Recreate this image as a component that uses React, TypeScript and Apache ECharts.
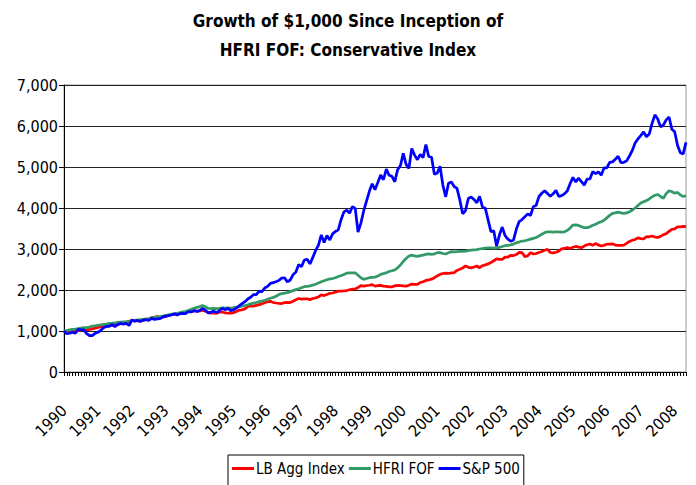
import React, { useEffect, useRef } from "react";
import * as echarts from "echarts";

const titleText = "Growth of $1,000 Since Inception of\nHFRI FOF: Conservative Index";
const yearLabels = ["1990","1991","1992","1993","1994","1995","1996","1997","1998","1999","2000","2001","2002","2003","2004","2005","2006","2007","2008"];
const seriesNames = ["LB Agg Index", "HFRI FOF", "S&P 500"];
const seriesColors = ["#FF0000", "#339966", "#0000FF"];
const yTicks = [0, 1000, 2000, 3000, 4000, 5000, 6000, 7000];

const lbAgg = [
  1000,
  988, 991, 993, 984, 1008, 1025, 1040, 1028, 1037, 1052, 1071, 1090,
  1101, 1111, 1119, 1131, 1137, 1138, 1154, 1178, 1202, 1215, 1228, 1264,
  1246, 1254, 1247, 1256, 1280, 1297, 1324, 1337, 1353, 1336, 1336, 1357,
  1383, 1408, 1414, 1424, 1426, 1452, 1460, 1486, 1490, 1496, 1484, 1490,
  1510, 1484, 1448, 1436, 1435, 1432, 1460, 1462, 1440, 1439, 1436, 1446,
  1474, 1509, 1518, 1539, 1599, 1611, 1607, 1626, 1642, 1663, 1688, 1713,
  1725, 1695, 1683, 1673, 1670, 1693, 1697, 1694, 1724, 1762, 1792, 1776,
  1781, 1786, 1766, 1792, 1809, 1830, 1880, 1864, 1891, 1919, 1927, 1947,
  1972, 1970, 1977, 1987, 2006, 2023, 2027, 2060, 2108, 2097, 2109, 2116,
  2131, 2094, 2105, 2112, 2094, 2087, 2078, 2077, 2102, 2110, 2109, 2099,
  2092, 2117, 2145, 2139, 2138, 2182, 2202, 2234, 2248, 2263, 2300, 2343,
  2381, 2402, 2414, 2403, 2417, 2423, 2478, 2506, 2535, 2588, 2553, 2541,
  2561, 2586, 2543, 2592, 2614, 2637, 2669, 2714, 2758, 2745, 2745, 2801,
  2804, 2843, 2841, 2865, 2918, 2912, 2814, 2833, 2908, 2881, 2888, 2916,
  2940, 2971, 2993, 2915, 2904, 2920, 2948, 3005, 3013, 3038, 3014, 3043,
  3062, 3046, 3030, 3071, 3104, 3121, 3092, 3132, 3100, 3075, 3089, 3117,
  3117, 3127, 3096, 3091, 3088, 3094, 3136, 3184, 3212, 3233, 3271, 3252,
  3249, 3299, 3298, 3316, 3291, 3281, 3308, 3349, 3375, 3430, 3480, 3490,
  3537, 3542, 3553, 3545,
];

const hfriFof = [
  1000,
  1012, 1025, 1038, 1045, 1058, 1070, 1082, 1085, 1098, 1120, 1128, 1140,
  1150, 1162, 1170, 1185, 1192, 1200, 1210, 1218, 1225, 1230, 1238, 1250,
  1262, 1270, 1280, 1285, 1295, 1305, 1318, 1330, 1345, 1350, 1365, 1380,
  1395, 1410, 1420, 1432, 1450, 1465, 1480, 1500, 1530, 1555, 1575, 1595,
  1620, 1590, 1550, 1545, 1552, 1548, 1555, 1565, 1560, 1565, 1560, 1570,
  1585, 1595, 1608, 1622, 1640, 1660, 1680, 1695, 1715, 1730, 1750, 1775,
  1800, 1820, 1845, 1890, 1910, 1925, 1935, 1960, 1985, 2010, 2030, 2055,
  2080, 2090, 2100, 2120, 2140, 2170, 2200, 2225, 2250, 2270, 2280, 2300,
  2330, 2350, 2380, 2410, 2420, 2415, 2420, 2360, 2300, 2260, 2280, 2300,
  2310, 2315, 2340, 2380, 2400, 2420, 2450, 2470, 2490, 2540, 2610, 2700,
  2770, 2830, 2850, 2830, 2820, 2840, 2850, 2870, 2880, 2870, 2880, 2910,
  2910, 2890, 2880, 2910, 2935, 2930, 2935, 2940, 2945, 2950, 2960, 2970,
  2980, 2985, 3000, 3010, 3020, 3030, 3030, 3020, 3030, 3040, 3060, 3080,
  3090, 3100, 3120, 3150, 3170, 3195, 3200, 3220, 3240, 3260, 3280, 3320,
  3360, 3400, 3420, 3420, 3410, 3420, 3415, 3410, 3420, 3450, 3510, 3585,
  3590, 3575, 3545, 3520, 3520, 3540, 3580, 3600, 3640, 3665, 3700, 3760,
  3820, 3870, 3880, 3900, 3880, 3870, 3880, 3910, 3950, 4000, 4060, 4120,
  4150, 4180, 4220, 4270, 4310, 4330, 4280, 4235, 4350, 4420, 4400, 4360,
  4380, 4320, 4280, 4300,
];

const sp500 = [
  1000,
  934, 945, 971, 948, 1038, 1032, 1030, 936, 890, 887, 943, 969,
  1012, 1083, 1110, 1113, 1160, 1107, 1160, 1186, 1167, 1184, 1134, 1264,
  1242, 1257, 1233, 1270, 1275, 1256, 1309, 1280, 1295, 1301, 1344, 1361,
  1374, 1391, 1421, 1388, 1422, 1427, 1422, 1475, 1463, 1495, 1480, 1498,
  1550, 1507, 1442, 1462, 1484, 1447, 1496, 1556, 1518, 1553, 1496, 1518,
  1558, 1617, 1665, 1715, 1781, 1823, 1885, 1889, 1969, 1963, 2048, 2088,
  2160, 2179, 2201, 2235, 2290, 2299, 2198, 2244, 2370, 2436, 2620, 2568,
  2730, 2750, 2637, 2795, 2964, 3097, 3344, 3157, 3330, 3219, 3368, 3426,
  3466, 3714, 3905, 3945, 3876, 4034, 3992, 3414, 3632, 3928, 4166, 4406,
  4591, 4448, 4625, 4806, 4690, 4951, 4797, 4772, 4640, 4935, 5035, 5331,
  5065, 4967, 5453, 5290, 5179, 5309, 5227, 5549, 5258, 5237, 4823, 4846,
  5019, 4561, 4273, 4606, 4635, 4524, 4480, 4197, 3858, 3932, 4233, 4269,
  4209, 4127, 4284, 4027, 3996, 3711, 3423, 3444, 3070, 3340, 3535, 3326,
  3240, 3190, 3221, 3487, 3670, 3718, 3784, 3857, 3817, 4032, 4067, 4280,
  4360, 4420, 4354, 4287, 4346, 4430, 4284, 4300, 4347, 4414, 4591, 4747,
  4634, 4729, 4646, 4559, 4703, 4709, 4886, 4838, 4879, 4800, 4977, 4979,
  5114, 5125, 5190, 5261, 5107, 5115, 5149, 5267, 5405, 5584, 5685, 5766,
  5856, 5737, 5804, 6065, 6272, 6170, 5982, 6020, 6150, 6220, 5920, 5860,
  5530, 5350, 5320, 5600,
];

const FONT = "'DejaVu Sans Condensed', 'Liberation Sans', sans-serif";

export default function App() {
  const ref = useRef<HTMLDivElement>(null);
  useEffect(() => {
    document.body.style.margin = "0";
    if (!ref.current) return;
    const chart = echarts.init(ref.current, undefined, { renderer: "svg" });
    const categories: string[] = [];
    yearLabels.forEach((y) => {
      for (let m = 1; m <= 12; m++) categories.push(y + "-" + m);
    });
    const cats = categories.slice(0, sp500.length);
    const allData = [lbAgg, hfriFof, sp500];
    chart.setOption({
      animation: false,
      backgroundColor: "#fff",
      textStyle: { fontFamily: FONT },
      title: {
        text: titleText,
        left: "center",
        top: 1,
        textStyle: { fontFamily: FONT, fontSize: 17, fontWeight: "bold", color: "#000", lineHeight: 29 },
      },
      legend: {
        data: seriesNames,
        left: 228,
        top: 455,
        icon: "rect",
        itemWidth: 22,
        itemHeight: 3,
        itemGap: 4,
        padding: [6, 4, 10, 4],
        borderColor: "#000",
        borderWidth: 1,
        textStyle: { fontFamily: FONT, fontSize: 15, color: "#000", padding: [0, 0, 0, -3] },
      },
      grid: {
        left: 64,
        right: 10,
        top: 85,
        bottom: 113,
        show: true,
        borderColor: "#999",
        borderWidth: 1,
      },
      xAxis: {
        type: "category",
        data: cats,
        boundaryGap: false,
        axisLine: { lineStyle: { color: "#000", width: 1 } },
        axisTick: { show: true, interval: 0, length: 4, lineStyle: { color: "#000" } },
        axisLabel: {
          interval: 11,
          rotate: 45,
          margin: 36,
          fontFamily: FONT,
          fontSize: 16,
          color: "#000",
          formatter: (v: string) => v.slice(0, 4),
        },
        splitLine: { show: false },
      },
      yAxis: {
        type: "value",
        min: yTicks[0],
        max: yTicks[yTicks.length - 1],
        interval: 1000,
        axisLine: { show: true, lineStyle: { color: "#000", width: 1 } },
        axisTick: { show: true, length: 5, lineStyle: { color: "#000" } },
        axisLabel: {
          fontFamily: FONT,
          fontSize: 16,
          color: "#000",
          margin: 6,
          formatter: (v: number) => v.toLocaleString("en-US"),
        },
        splitLine: { show: true, lineStyle: { color: "#222", width: 1 } },
      },
      series: seriesNames.map((name, k) => ({
        name,
        type: "line",
        data: allData[k],
        color: seriesColors[k],
        symbol: "none",
        lineStyle: { color: seriesColors[k], width: 2.75 },
      })),
    });
    return () => chart.dispose();
  }, []);
  return <div ref={ref} style={{ width: 696, height: 485 }} />;
}
